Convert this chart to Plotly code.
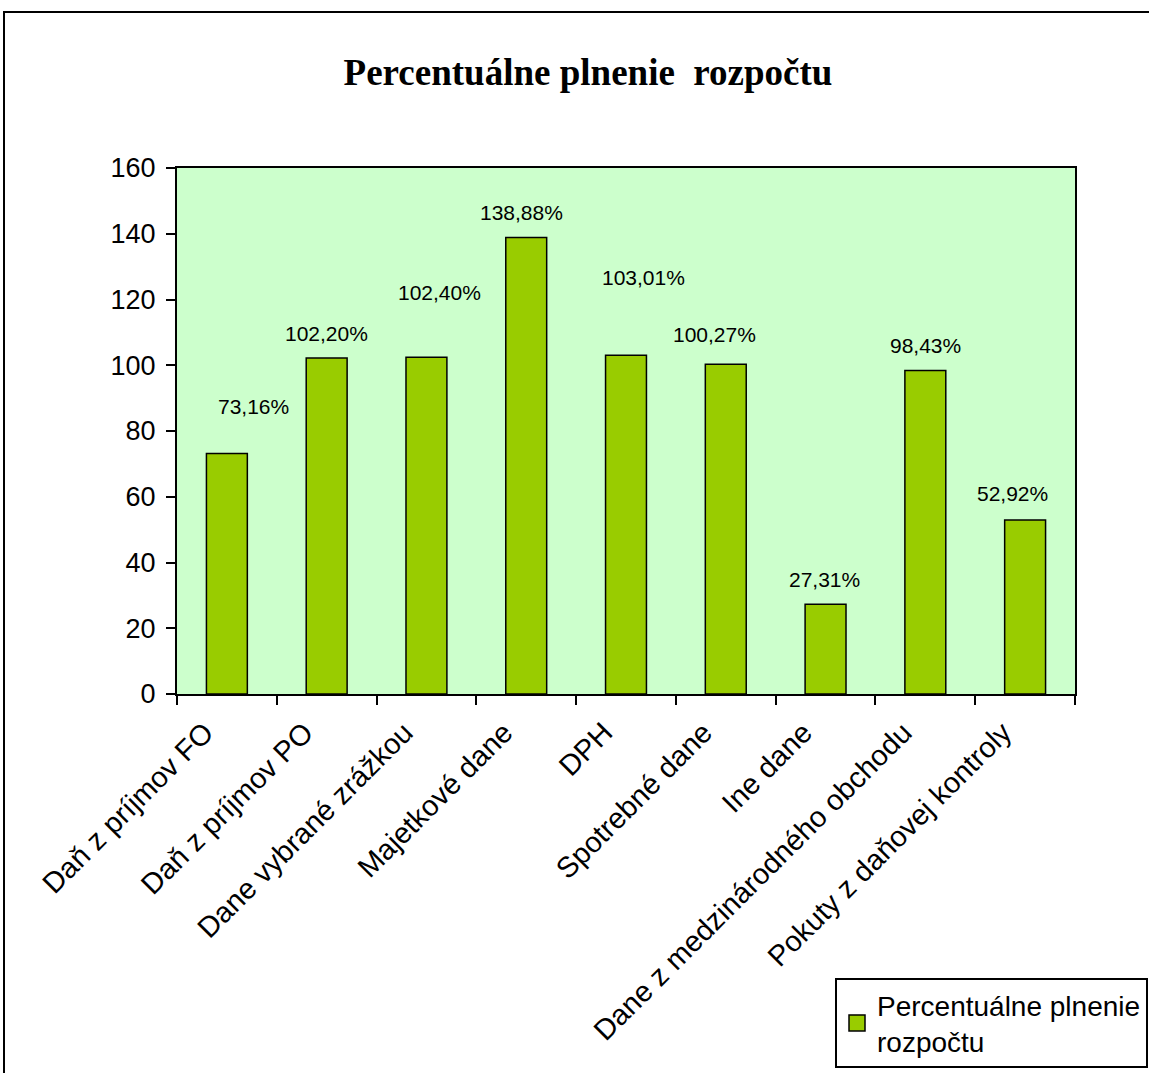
import plotly.graph_objects as go

# Tax revenue categories and budget fulfilment in percent
categories = [
    "Daň z príjmov FO",
    "Daň z príjmov PO",
    "Dane vybrané zrážkou",
    "Majetkové dane",
    "DPH",
    "Spotrebné dane",
    "Ine dane",
    "Dane z medzinárodného obchodu",
    "Pokuty z daňovej kontroly",
]
fulfilment = [73.16, 102.20, 102.40, 138.88, 103.01, 100.27, 27.31, 98.43, 52.92]
series_name = "Percentuálne plnenie<br>rozpočtu"
y_ticks = [0, 20, 40, 60, 80, 100, 120, 140, 160]

# Placement of the value labels relative to the bar tops (pixels)
label_dx = [27, 0, 13, -5, 17, -11, -1, 0, -13]
label_dy = [47, 25, 65, 25, 78, 30, 25, 25, 27]

W, H = 1149, 1073
L, R, T, B = 177, 1075, 168, 694  # plot area in pixels

BAR_GREEN = "#99CC00"

fig = go.Figure()
fig.add_trace(go.Bar(
    x=categories,
    y=fulfilment,
    name=series_name,
    marker=dict(color=BAR_GREEN, line=dict(color="black", width=1.5)),
    showlegend=False,
))
# Legend entry with a larger square swatch
fig.add_trace(go.Scatter(
    x=[None], y=[None], mode="markers", name=series_name,
    marker=dict(symbol="square", size=16, color=BAR_GREEN,
                line=dict(color="black", width=1.5)),
    showlegend=True,
))

for cat, val, dx, dy in zip(categories, fulfilment, label_dx, label_dy):
    fig.add_annotation(
        x=cat, y=val, xref="x", yref="y",
        text=f"{val:.2f}".replace(".", ",") + "%",
        showarrow=False, xanchor="center", yanchor="middle",
        xshift=dx, yshift=dy,
        font=dict(family="Liberation Sans, Arial", size=21, color="black"),
    )

def px_x(p):
    return (p - L) / (R - L)

def px_y(p):
    return (B - p) / (B - T)

# Outer chart frame
fig.add_shape(
    type="rect", xref="paper", yref="paper",
    x0=px_x(4), x1=px_x(W + 5), y0=px_y(H + 5), y1=px_y(12),
    line=dict(color="black", width=2), fillcolor="rgba(0,0,0,0)", layer="below",
)

fig.update_layout(
    width=W, height=H,
    margin=dict(l=L, r=W - R, t=T, b=H - B, pad=0, autoexpand=False),
    paper_bgcolor="white",
    plot_bgcolor="#CCFFCC",
    bargap=0.59,
    title=dict(
        text="<b>Percentuálne plnenie  rozpočtu</b>",
        x=px_x(588), xref="paper", xanchor="center",
        y=1 - 72 / H, yanchor="middle",
        font=dict(family="Liberation Serif, Times New Roman", size=37, color="black"),
    ),
    xaxis=dict(
        tickangle=-45,
        tickfont=dict(family="Liberation Sans, Arial", size=29, color="black"),
        showline=True, linecolor="black", linewidth=2, mirror=True,
        ticks="outside", tickson="boundaries", ticklen=9, tickwidth=2, tickcolor="black",
        ticklabelstandoff=8,
        ticklabelshift=-22,
        showgrid=False,
    ),
    yaxis=dict(
        range=[0, 160],
        tickvals=y_ticks,
        tickfont=dict(family="Liberation Sans, Arial", size=27, color="black"),
        showline=True, linecolor="black", linewidth=2, mirror=True,
        ticks="outside", ticklen=9, tickwidth=2, tickcolor="black",
        ticklabelstandoff=5,
        showgrid=False, zeroline=False,
    ),
    legend=dict(
        x=px_x(835), y=px_y(1068), xanchor="left", yanchor="bottom",
        xref="paper", yref="paper",
        bgcolor="white", bordercolor="black", borderwidth=2,
        font=dict(family="Liberation Sans, Arial", size=28, color="black"),
        itemwidth=30,
    ),
)

fig.write_html("out.html")
